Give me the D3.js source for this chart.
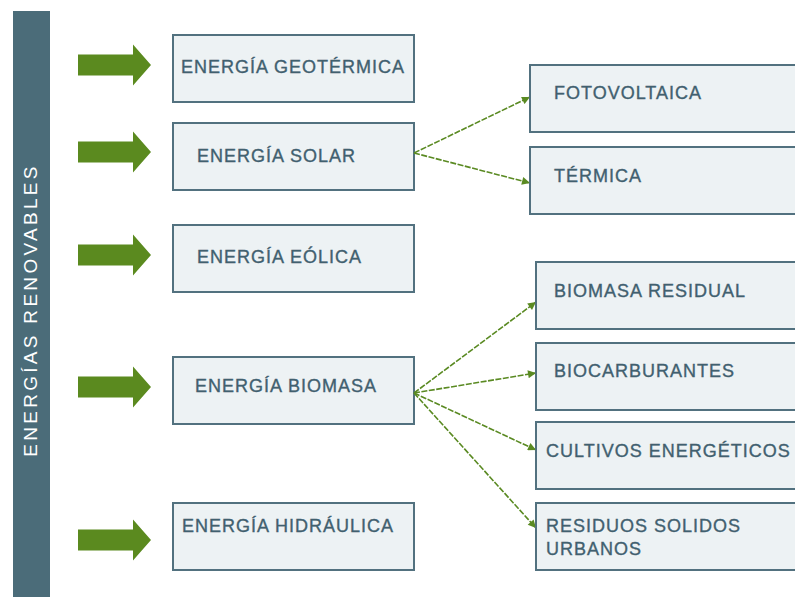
<!DOCTYPE html>
<html>
<head>
<meta charset="utf-8">
<script src="https://cdn.jsdelivr.net/npm/d3@7"></script>
<style>
  html, body { margin: 0; padding: 0; background: #fff; }
  svg { display: block; }
  .lbl { font-family: "Liberation Sans", Arial, sans-serif; font-size: 18px; fill: #41606f; stroke: #41606f; stroke-width: 0.35px; letter-spacing: 1px; }
</style>
</head>
<body>
<div id="wrapper"></div>
<script>
var width = 795, height = 597;

// data
var title = "ENERGÍAS RENOVABLES";
var sources = ["ENERGÍA GEOTÉRMICA", "ENERGÍA SOLAR", "ENERGÍA EÓLICA", "ENERGÍA BIOMASA", "ENERGÍA HIDRÁULICA"];
var solarTypes = ["FOTOVOLTAICA", "TÉRMICA"];
var biomasaTypes = ["BIOMASA RESIDUAL", "BIOCARBURANTES", "CULTIVOS ENERGÉTICOS", ["RESIDUOS SOLIDOS", "URBANOS"]];

// layout (pixels)
var leftTop = [35, 123, 225, 357, 503];
var leftTextX = [8, 24, 24, 22, 9];
var leftBase = [38, 39, 38, 35, 29];
var arrowY = [65, 152, 255, 387, 540];
var boxH = 67;

var rightBoxes = [
	{parent: 1, label: solarTypes[0], x: 530, y: 65, tx: 24, ty: 34, target: 97},
	{parent: 1, label: solarTypes[1], x: 530, y: 147, tx: 24, ty: 35, target: 183},
	{parent: 3, label: biomasaTypes[0], x: 536, y: 262, tx: 18, ty: 35, target: 302},
	{parent: 3, label: biomasaTypes[1], x: 536, y: 343, tx: 18, ty: 34, target: 373},
	{parent: 3, label: biomasaTypes[2], x: 536, y: 422, tx: 10, ty: 35, target: 450},
	{parent: 3, label: biomasaTypes[3], x: 536, y: 503, tx: 10, ty: 29, target: 528}
];
var origins = {1: 153, 3: 393};

var svg = d3.select("#wrapper").append("svg")
	.attr("width", width)
	.attr("height", height);

svg.append("defs").append("marker")
	.attr("id", "tip")
	.attr("viewBox", "0 0 10 10")
	.attr("refX", 10).attr("refY", 5)
	.attr("markerWidth", 9).attr("markerHeight", 8)
	.attr("markerUnits", "userSpaceOnUse")
	.attr("orient", "auto")
	.append("path")
	.attr("d", "M0,0 L10,5 L0,10 Z")
	.attr("fill", "#5a8a22");

// side bar
svg.append("rect")
	.attr("x", 13).attr("y", 11)
	.attr("width", 37).attr("height", height)
	.attr("fill", "#4b6c79");

svg.append("text")
	.attr("transform", "translate(37,310) rotate(-90)")
	.attr("text-anchor", "middle")
	.attr("font-family", "Liberation Sans, Arial, sans-serif")
	.attr("font-size", 19)
	.attr("letter-spacing", "3.3px")
	.attr("fill", "#fff")
	.text(title);

// big green arrows
var arrow = d3.line();
svg.selectAll("path.big").data(arrowY).enter().append("path")
	.attr("class", "big")
	.attr("fill", "#5b8a1f")
	.attr("d", function(y){
		return arrow([[78, y - 10.5], [133, y - 10.5], [133, y - 20.5], [151, y], [133, y + 20.5], [133, y + 10.5], [78, y + 10.5]]) + "Z";
	});

// left boxes
var left = svg.selectAll("g.src").data(sources).enter().append("g")
	.attr("class", "src")
	.attr("transform", function(d, i){ return "translate(173," + leftTop[i] + ")"; });

left.append("rect")
	.attr("width", 241).attr("height", boxH)
	.attr("fill", "#edf2f4").attr("stroke", "#52717f").attr("stroke-width", 2);

left.append("text")
	.attr("class", "lbl")
	.attr("x", function(d, i){ return leftTextX[i]; })
	.attr("y", function(d, i){ return leftBase[i]; })
	.text(function(d){ return d; });

// connectors
svg.selectAll("line.conn").data(rightBoxes).enter().append("line")
	.attr("class", "conn")
	.attr("x1", 414).attr("y1", function(d){ return origins[d.parent]; })
	.attr("x2", function(d){ return d.x; })
	.attr("y2", function(d){ return d.target; })
	.attr("stroke", "#5a8a22")
	.attr("stroke-width", 1.6)
	.attr("stroke-dasharray", "6,1.5")
	.attr("marker-end", "url(#tip)");

// right boxes
var right = svg.selectAll("g.sub").data(rightBoxes).enter().append("g")
	.attr("class", "sub")
	.attr("transform", function(d){ return "translate(" + d.x + "," + d.y + ")"; });

right.append("rect")
	.attr("width", 300).attr("height", boxH)
	.attr("fill", "#edf2f4").attr("stroke", "#52717f").attr("stroke-width", 2);

right.each(function(d){
	var lines = Array.isArray(d.label) ? d.label : [d.label];
	d3.select(this).selectAll("text").data(lines).enter().append("text")
		.attr("class", "lbl")
		.attr("x", d.tx)
		.attr("y", function(l, j){ return d.ty + j * 23; })
		.text(function(l){ return l; });
});
</script>
</body>
</html>
